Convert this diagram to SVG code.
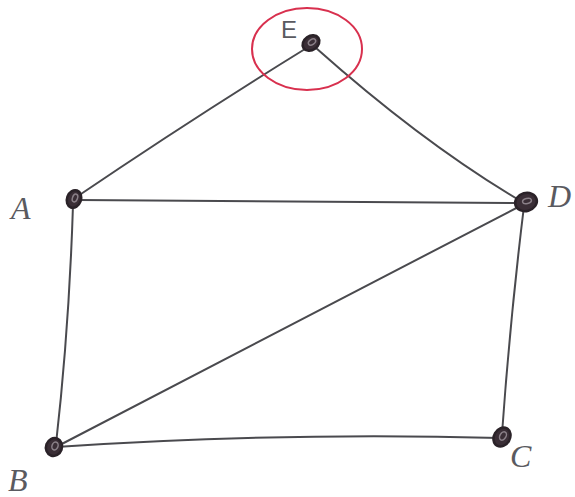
<svg xmlns="http://www.w3.org/2000/svg" width="575" height="497" viewBox="0 0 575 497">
<style>
.edge{stroke:#4a4a4e;stroke-width:2;fill:none;stroke-linecap:round}
.node{fill:#3a2e36;stroke:#2a2228;stroke-width:2.5}
.hole{fill:none;stroke:#8a8088;stroke-width:1.5}
.lbl{font-family:"Liberation Serif",serif;font-style:italic;font-size:32px;fill:#5a5a60}
</style>
<rect width="575" height="497" fill="#ffffff"/>
<g id="connectors">
<path class="edge" d="M305,49 Q190,120 75,198"/>
<path class="edge" d="M316,48 Q425,145 524,203"/>
<path class="edge" d="M78,200 L524,203"/>
<path class="edge" d="M73,205 Q69,330 56,444"/>
<path class="edge" d="M56,447 Q300,320 524,204"/>
<path class="edge" d="M56,447 Q280,432 500,438"/>
<path class="edge" d="M524,206 Q510,320 502,434"/>
</g>
<ellipse id="highlight" cx="307" cy="49" rx="55" ry="41" fill="none" stroke="#d8304e" stroke-width="2"/>
<g id="node-E">
<ellipse class="node" cx="311" cy="43" rx="9" ry="7" transform="rotate(-35 311 43)"/>
<ellipse class="hole" cx="312" cy="42" rx="4" ry="2.5" transform="rotate(-35 312 42)"/>
<text class="lbl" x="281" y="38" style="font-style:normal;font-family:'Liberation Sans',sans-serif;font-size:24px">E</text>
</g>
<g id="node-A">
<ellipse class="node" cx="74" cy="199" rx="7" ry="9" transform="rotate(20 74 199)"/>
<ellipse class="hole" cx="75" cy="198" rx="2.5" ry="4" transform="rotate(20 75 198)"/>
<text class="lbl" x="11" y="219">A</text>
</g>
<g id="node-D">
<ellipse class="node" cx="526" cy="202" rx="11" ry="9" transform="rotate(-15 526 202)"/>
<ellipse class="hole" cx="527" cy="201" rx="4.5" ry="2.5" transform="rotate(-15 527 201)"/>
<text class="lbl" x="548" y="207">D</text>
</g>
<g id="node-B">
<ellipse class="node" cx="54" cy="447" rx="8" ry="9" transform="rotate(20 54 447)"/>
<ellipse class="hole" cx="55" cy="446" rx="3" ry="4" transform="rotate(20 55 446)"/>
<text class="lbl" x="8" y="491">B</text>
</g>
<g id="node-C">
<ellipse class="node" cx="502" cy="437" rx="8" ry="10" transform="rotate(30 502 437)"/>
<ellipse class="hole" cx="503" cy="436" rx="3" ry="4.5" transform="rotate(30 503 436)"/>
<text class="lbl" x="510" y="467">C</text>
</g>
</svg>
